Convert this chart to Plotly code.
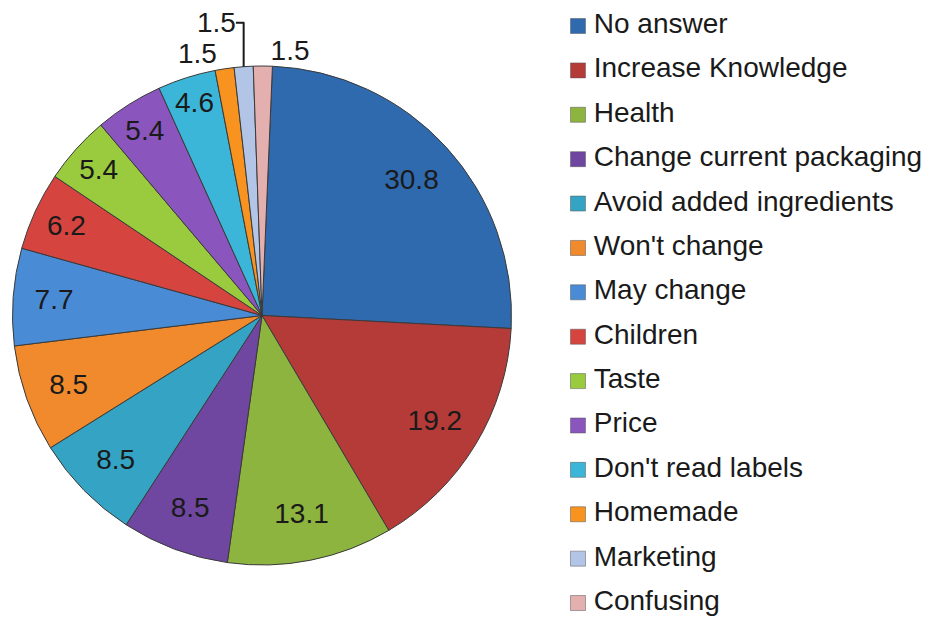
import plotly.graph_objects as go

labels = ["No answer", "Increase Knowledge", "Health", "Change current packaging",
          "Avoid added ingredients", "Won't change", "May change", "Children",
          "Taste", "Price", "Don't read labels", "Homemade", "Marketing", "Confusing"]
values = [30.8, 19.2, 13.1, 8.5, 8.5, 8.5, 7.7, 6.2, 5.4, 5.4, 4.6, 1.5, 1.5, 1.5]
colors = ["#2F69AE", "#B53B38", "#8CB43F", "#6F47A0", "#35A3C3", "#F08A2C", "#4A8BD6",
          "#D6443F", "#9ACB3E", "#8A56BE", "#3CB6D8", "#F7931E", "#B3C5E6", "#E3AFAF"]

text_pos = ["inside" if v > 2 else "outside" for v in values]
font = "Liberation Sans, Arial, sans-serif"
# page has an 8px body margin, so everything is placed 8px up/left
pie_domain = dict(x=[4 / 939, 504 / 939], y=[64 / 621, 563 / 621])
# small turn so the last slice's label lands right of 12 o'clock
rot = 2.4

fig = go.Figure()

# coloured slices
fig.add_trace(go.Pie(
    labels=labels, values=values,
    sort=False, direction="clockwise", rotation=rot,
    marker=dict(colors=colors, line=dict(color="#3a3a3a", width=1)),
    textinfo="none", automargin=False,
    domain=pie_domain, showlegend=False, hoverinfo="label+value",
))

# transparent ring on top, so the values sit near the rim
fig.add_trace(go.Pie(
    labels=labels, values=values, hole=0.62,
    sort=False, direction="clockwise", rotation=rot,
    marker=dict(colors=["rgba(0,0,0,0)"] * len(values), line=dict(width=0)),
    textinfo="value", textposition=text_pos,
    insidetextorientation="horizontal", automargin=False,
    textfont=dict(family=font, size=28, color="#1a1a1a"),
    outsidetextfont=dict(family=font, size=22, color="#1a1a1a"),
    domain=pie_domain, showlegend=False, hoverinfo="skip",
))

# legend drawn as a scatter column
fig.add_trace(go.Scatter(
    x=[1.267] * len(labels), y=labels, mode="markers",
    marker=dict(symbol="square", size=15, color=colors,
                line=dict(color="#555555", width=0.5)),
    showlegend=False, hoverinfo="skip",
))
fig.add_trace(go.Scatter(
    x=[1.64] * len(labels), y=labels, mode="text",
    text=labels, textposition="middle right",
    textfont=dict(family=font, size=28, color="#1a1a1a"),
    showlegend=False, hoverinfo="skip", cliponaxis=False,
))

fig.update_layout(
    width=939, height=621,
    margin=dict(l=0, r=0, t=0, b=0, autoexpand=False),
    paper_bgcolor="white", plot_bgcolor="white",
    uniformtext=dict(minsize=28, mode="show"),
    xaxis=dict(domain=[0.55, 1], range=[0, 10], visible=False, fixedrange=True),
    yaxis=dict(domain=[0, 1], range=[13.585, -0.4055], visible=False, fixedrange=True,
               type="category", categoryorder="array", categoryarray=labels),
)

fig.write_html("out.html")
